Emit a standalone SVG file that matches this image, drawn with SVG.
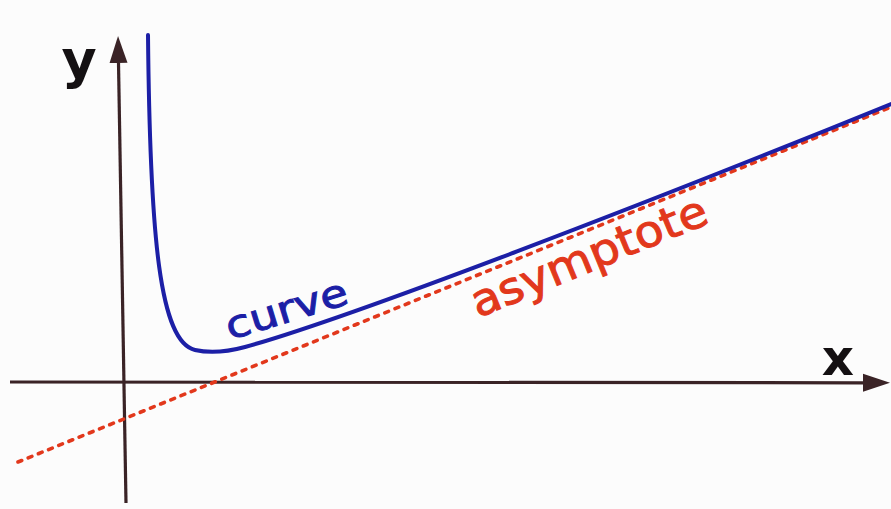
<svg xmlns="http://www.w3.org/2000/svg" width="891" height="509" viewBox="0 0 891 509">
  <style>
    .axis { stroke: #3a2326; stroke-width: 3.2; fill: none; }
    .lbl { font-family: "DejaVu Sans", "Liberation Sans", sans-serif; font-weight: bold; fill: #141012; }
    .curve { stroke: #1c1fa6; stroke-width: 4; fill: none; stroke-linecap: round; stroke-linejoin: round; }
    .asym { stroke: #e2381c; stroke-width: 3.6; fill: none; stroke-dasharray: 4 7; stroke-linecap: round; }
    .ctext { font-family: "DejaVu Sans", "Liberation Sans", sans-serif; font-size: 38px; fill: #1c1fa6; stroke: #1c1fa6; stroke-width: 1; }
    .atext { font-family: "DejaVu Sans", "Liberation Sans", sans-serif; font-size: 44px; fill: #e2381c; stroke: #e2381c; stroke-width: 1; }
  </style>
  <defs>
    <marker id="arrow" markerUnits="userSpaceOnUse" markerWidth="28" markerHeight="20" refX="0" refY="9" orient="auto" viewBox="0 0 28 18">
      <path d="M0,0 L27,9 L0,18 z" fill="#3a2326"/>
    </marker>
  </defs>
  <rect x="0" y="0" width="891" height="509" fill="#fcfcfc"/>
  <g id="axes">
    <line class="axis" x1="10" y1="382" x2="863" y2="382.8" marker-end="url(#arrow)"/>
    <line class="axis" x1="126" y1="503" x2="118.5" y2="63" marker-end="url(#arrow)"/>
    <text class="lbl" x="79" y="78" font-size="54" text-anchor="middle">y</text>
    <text class="lbl" x="838" y="375" font-size="50" text-anchor="middle">x</text>
  </g>
  <g id="asymptote">
    <line class="asym" x1="18" y1="462" x2="891" y2="107"/>
    <text class="atext" transform="translate(478,318) rotate(-22.3)" textLength="252" lengthAdjust="spacingAndGlyphs">asymptote</text>
  </g>
  <g id="curve">
    <path class="curve" d="M148,35 C150,240 160,342 195,350 C212.5,354 230,351.1 245,347 C350,318 650,202 891,104"/>
    <text class="ctext" transform="translate(230,340) rotate(-17)" textLength="126" lengthAdjust="spacingAndGlyphs">curve</text>
  </g>
</svg>
